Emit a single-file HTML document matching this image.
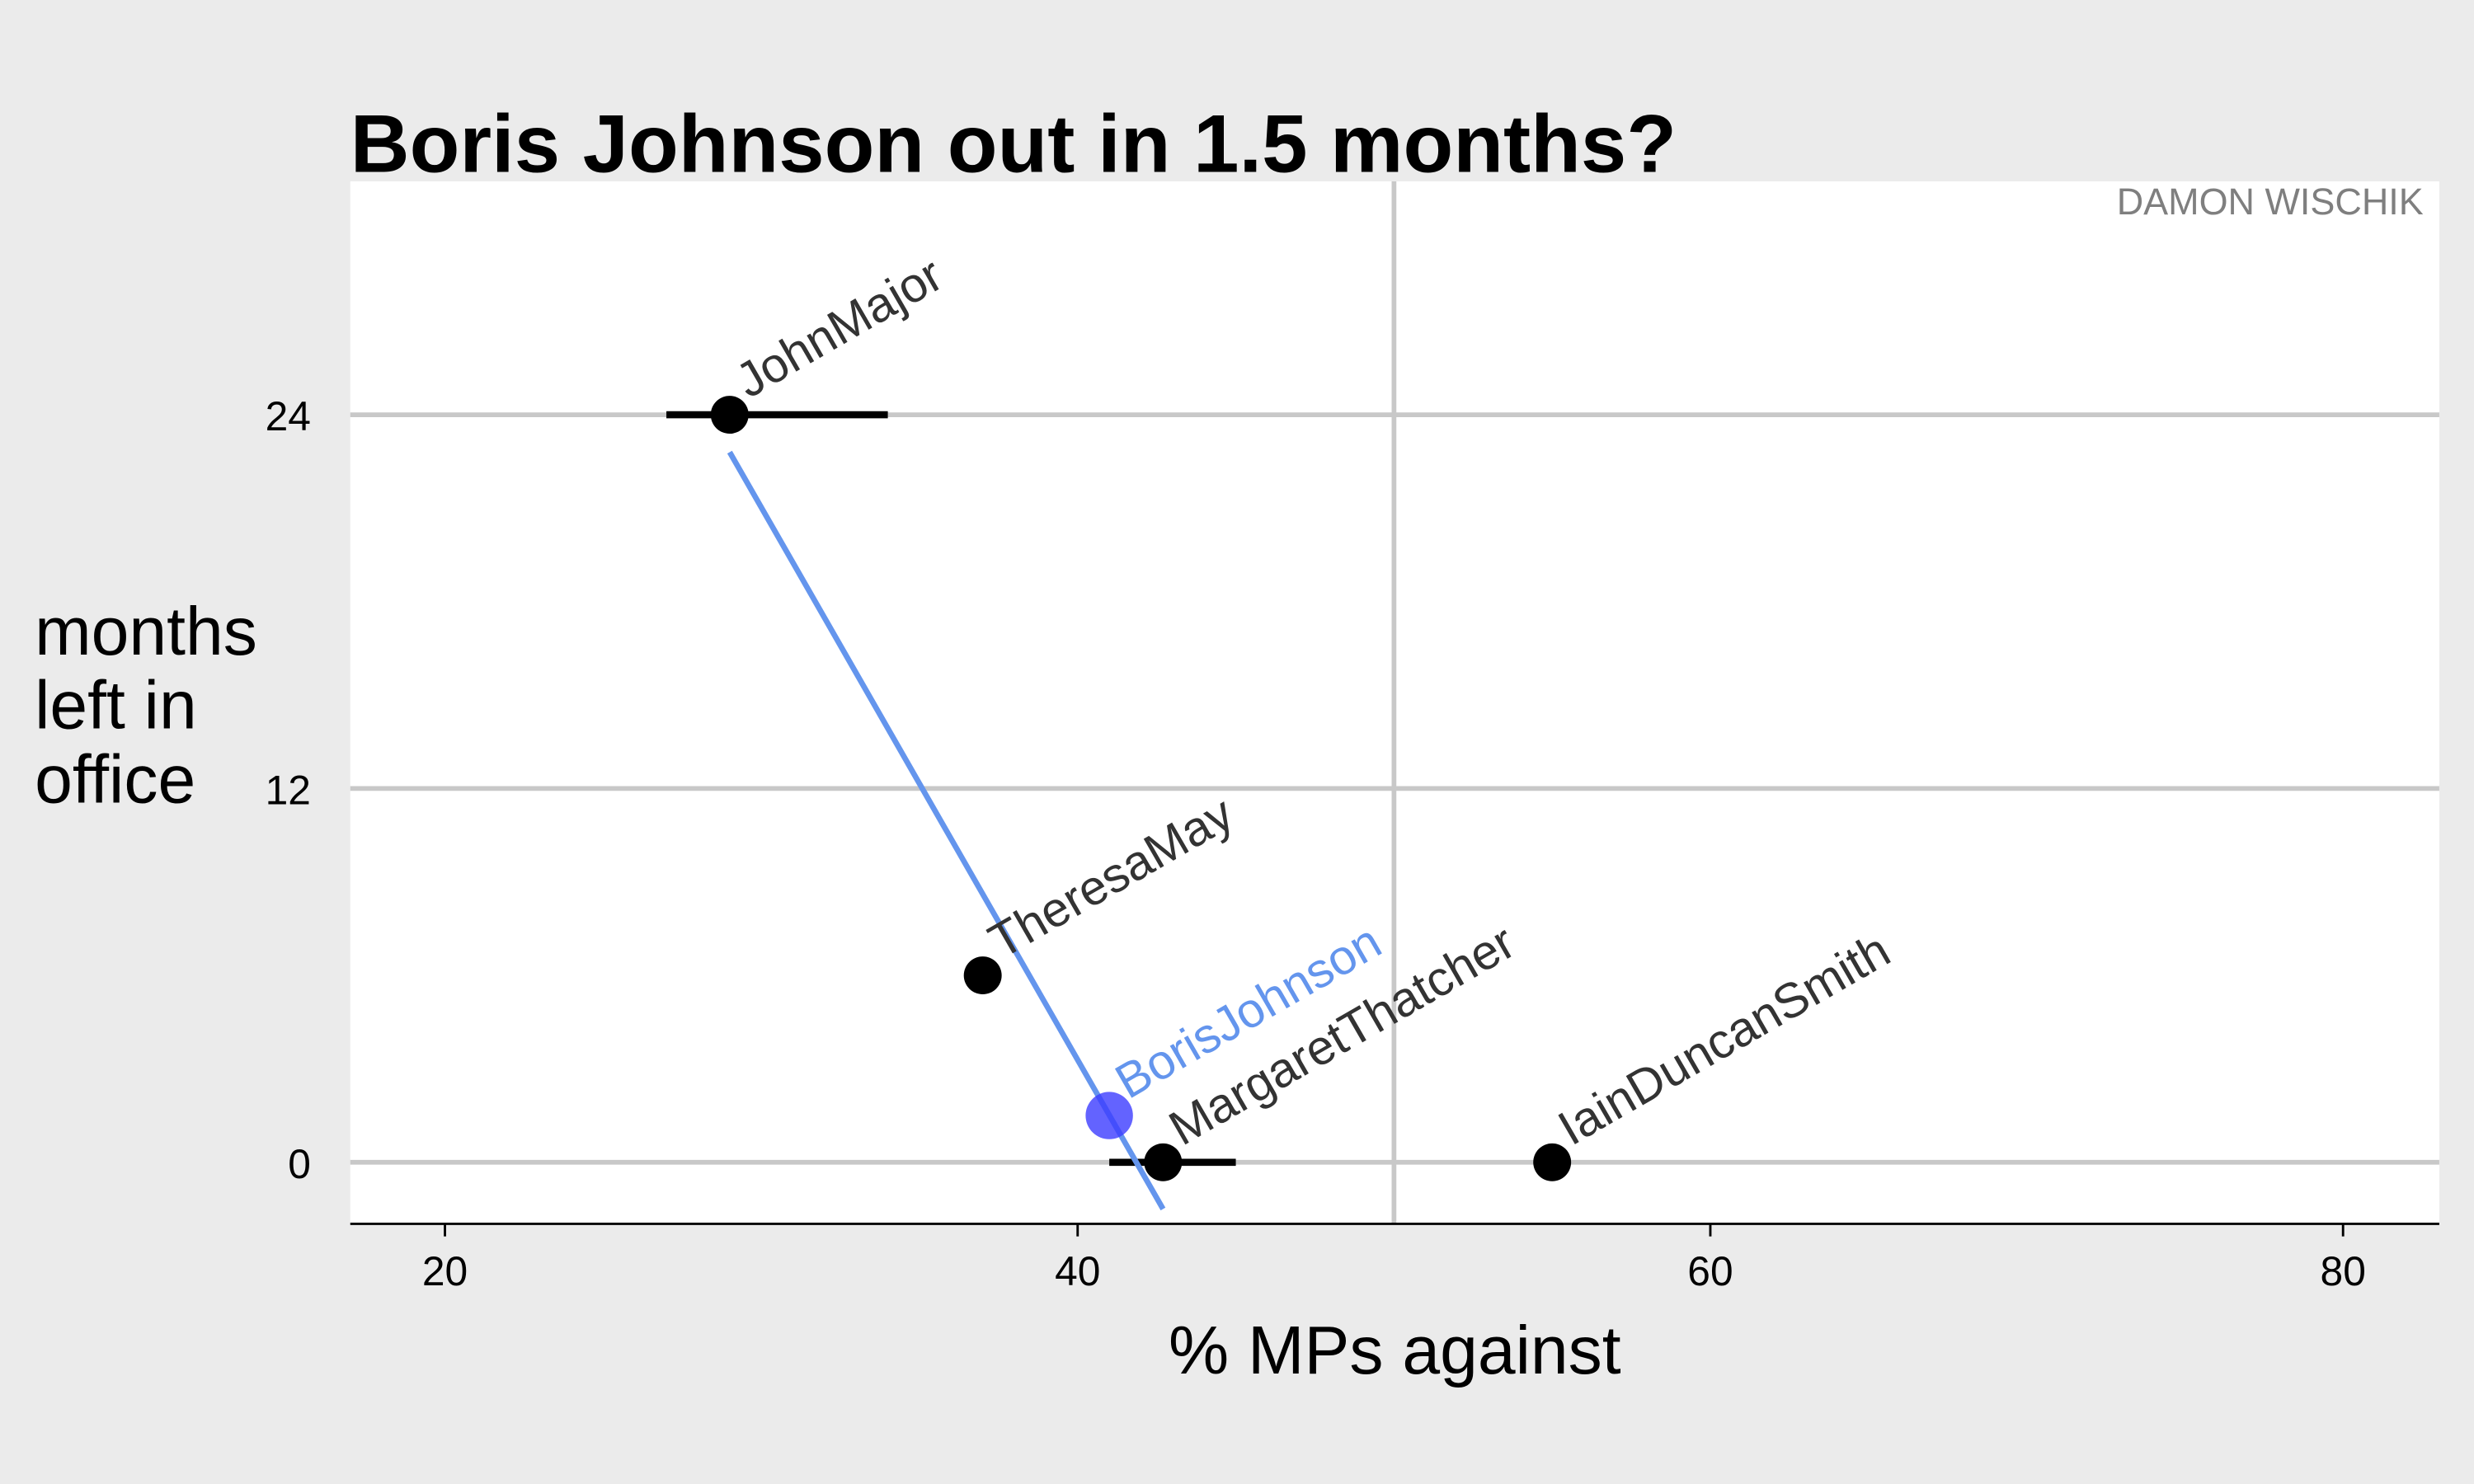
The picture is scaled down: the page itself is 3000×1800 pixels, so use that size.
<!DOCTYPE html>
<html><head><meta charset="utf-8"><style>
html,body{margin:0;padding:0;background:#ebebeb}
svg{display:block}
text{font-family:"Liberation Sans",sans-serif}
</style></head><body>
<svg id="chart" width="3000" height="1800" viewBox="0 0 1568 941" preserveAspectRatio="none" xmlns="http://www.w3.org/2000/svg">
<rect x="0" y="0" width="1568" height="941" fill="#ebebeb"/>
<rect x="222" y="115" width="1324" height="661" fill="#ffffff"/>
<g id="grid"></g>
<g id="marks"></g>
<line x1="222" y1="776" x2="1546" y2="776" stroke="#000" stroke-width="1.5"/>
<g id="xticks"></g>
<g id="yticks"></g>
<text x="222" y="109" font-size="52" font-weight="bold" fill="#000">Boris Johnson out in 1.5 months?</text>
<text x="1536" y="136" font-size="23.5" fill="#7f7f7f" text-anchor="end">DAMON WISCHIK</text>
<text x="884" y="871" font-size="43" fill="#000" text-anchor="middle">% MPs against</text>
<text font-size="43" fill="#000"><tspan x="22" y="415">months</tspan><tspan x="22" y="462">left in</tspan><tspan x="22" y="509">office</tspan></text>
</svg>
<script>
const names = ["JohnMajor","TheresaMay","BorisJohnson","MargaretThatcher","IainDuncanSmith"];
const xVals = [29, 37, 41, 42.7, 55];
const yVals = [24, 6, 1.5, 0, 0];
const errLo = [27, null, null, 41, null];
const errHi = [34, null, null, 45, null];
const fitX = [29, 42.7];
const fitY = [22.8, -1.5];
const xTicks = [20, 40, 60, 80];
const yTicks = [0, 12, 24];
const xRef = [50];

const NS = "http://www.w3.org/2000/svg";
function sx(v){ return 282 + (v - 20) * (683 - 282) / 20; }
function sy(v){ return 737 - v * (737 - 263) / 24; }
function mk(tag, attrs, parent){
  const e = document.createElementNS(NS, tag);
  for (const k in attrs) e.setAttribute(k, attrs[k]);
  parent.appendChild(e);
  return e;
}
const grid = document.getElementById("grid");
const marks = document.getElementById("marks");
const xt = document.getElementById("xticks");
const yt = document.getElementById("yticks");

yTicks.forEach(v => {
  const l = mk("line", {x1:222, x2:1546, y1:sy(v), y2:sy(v), stroke:"#c8c8c8", "stroke-width":3}, grid);
  
  
  const t = mk("text", {x:197, y:sy(v)+10, "font-size":26, "text-anchor":"end", fill:"#000"}, yt);
  t.textContent = v;
  
  
});
xRef.forEach(v => {
  const l = mk("line", {x1:sx(v), x2:sx(v), y1:115, y2:776, stroke:"#c8c8c8", "stroke-width":3}, grid);
  
  
});
xTicks.forEach(v => {
  const tk = mk("line", {x1:sx(v), x2:sx(v), y1:776, y2:784, stroke:"#000", "stroke-width":1.5}, xt);
  
  
  const t = mk("text", {x:sx(v), y:815, "font-size":26, "text-anchor":"middle", fill:"#000"}, xt);
  t.textContent = v;
  
  
});
names.forEach((n, i) => {
  if (errLo[i] === null) return;
  const l = mk("line", {x1:sx(errLo[i]), x2:sx(errHi[i]), y1:sy(yVals[i]), y2:sy(yVals[i]), stroke:"#000", "stroke-width":4.5}, marks);
  
  
});
const fl = mk("line", {x1:sx(fitX[0]), y1:sy(fitY[0]), x2:sx(fitX[1]), y2:sy(fitY[1]), stroke:"#6495ed", "stroke-width":3.5}, marks);


names.forEach((n, i) => {
  const boris = n === "BorisJohnson";
  const c = mk("circle", {cx:sx(xVals[i]), cy:sy(yVals[i]), r: boris ? 15 : 12, fill: boris ? "rgba(60,60,255,0.8)" : "#000"}, marks);
  
  
  const tx = sx(xVals[i]) + 12, ty = sy(yVals[i]) - 10;
  const t = mk("text", {x:tx, y:ty, "font-size":31, fill: boris ? "#6495ed" : "#333", transform:"rotate(-30 " + tx + " " + ty + ")"}, marks);
  t.textContent = n;
  
  
});
</script>
</body></html>
